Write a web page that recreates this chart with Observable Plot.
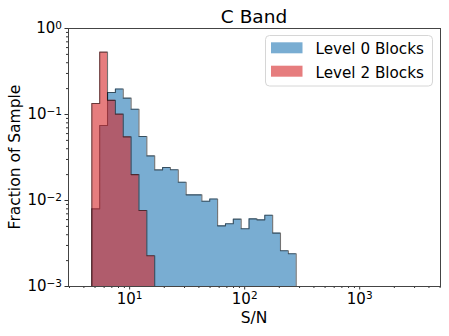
<!DOCTYPE html>
<html><head><meta charset="utf-8">
<script src="https://cdn.jsdelivr.net/npm/d3@7"></script>
<script src="https://cdn.jsdelivr.net/npm/@observablehq/plot@0.6"></script>
<style>body{margin:0;background:#fff} svg{display:block}</style>
</head><body><div id="chart"></div>
<script>
// log-spaced histogram bin edges (S/N)
const binEdges = [4.69, 5.49, 6.42, 7.52, 8.80, 10.30, 12.05, 14.11, 16.51, 19.33, 22.62, 26.48, 30.99,
  36.27, 42.46, 49.69, 58.16, 68.07, 79.66, 93.27, 109.1, 127.8, 149.5, 175.1, 204.8, 239.8, 280.6];
// fraction of sample per bin
const level0 = [0.0080, 0.0745, 0.180, 0.198, 0.155, 0.115, 0.0555, 0.033, 0.0227, 0.0242, 0.0228, 0.0163,
  0.01164, 0.01164, 0.0098, 0.0104, 0.00507, 0.00536, 0.00607, 0.00469, 0.00612, 0.00596, 0.00675,
  0.00418, 0.0026, 0.0024];
const level2 = [0.134, 0.531, 0.146, 0.101, 0.055, 0.0200, 0.00765, 0.00228];
const seriesNames = ["Level 0 Blocks", "Level 2 Blocks"];
const seriesColors = ["#1f77b4", "#d62728"];
const xMajorTicks = [10, 100, 1000];
const xTickLabels = ["10^1", "10^2", "10^3"];
const yMajorTicks = [1e-3, 1e-2, 1e-1, 1];
const yTickLabels = ["10^\u22123", "10^\u22122", "10^\u22121", "10^0"];
const xDomain = [2.94, 5040];
const yDomain = [1e-3, 1];
const yMin = yDomain[0];

const xMinor = [], yMinor = [];
for (const d of [1, 10, 100, 1000]) for (let k = 2; k <= 9; k++) { const v = d * k; if (v > xDomain[0] && v < xDomain[1]) xMinor.push(v); }
for (const d of [1e-3, 1e-2, 1e-1]) for (let k = 2; k <= 9; k++) yMinor.push(d * k);

function areaPts(values) {
  const pts = values.map((v, i) => ({x: binEdges[i], y: v}));
  pts.push({x: binEdges[values.length], y: values[values.length - 1]});
  return pts;
}
function outlinePts(values) {
  const pts = [{x: binEdges[0], y: yMin}];
  values.forEach((v, i) => pts.push({x: binEdges[i], y: v}));
  pts.push({x: binEdges[values.length], y: values[values.length - 1]});
  pts.push({x: binEdges[values.length], y: yMin});
  return pts;
}

const marks = [];
[level0, level2].forEach((vals, s) => {
  marks.push(Plot.areaY(areaPts(vals), {x: "x", y1: () => yMin, y2: "y", curve: "step-after",
    fill: seriesColors[s], fillOpacity: 0.6}));
  marks.push(Plot.line(outlinePts(vals), {x: "x", y: "y", curve: "step-after",
    stroke: "#000", strokeOpacity: 0.55, strokeWidth: 1.1}));
});

const chart = Plot.plot({
  width: 449, height: 336,
  marginLeft: 68, marginRight: 9, marginTop: 28, marginBottom: 50,
  style: {fontFamily: "DejaVu Sans", fontSize: "15px", color: "#000", background: "#fff"},
  x: {type: "log", domain: xDomain},
  y: {type: "log", domain: yDomain},
  marks: [
    ...marks,
    Plot.axisX({ticks: xMinor, tickSize: 2, tickFormat: () => "", label: null, stroke: "#333"}),
    Plot.axisX({ticks: xMajorTicks, tickSize: 3.5, tickPadding: 3, label: null, fontSize: 15,
      tickFormat: (d) => xTickLabels[xMajorTicks.indexOf(d)], stroke: "#333"}),
    Plot.axisY({ticks: yMinor, tickSize: 2, tickFormat: () => "", label: null, stroke: "#333"}),
    Plot.axisY({ticks: yMajorTicks, tickSize: 3.5, tickPadding: 3, label: null, fontSize: 15,
      tickFormat: (d) => yTickLabels[yMajorTicks.indexOf(d)], stroke: "#333"}),
    Plot.frame({stroke: "#444", strokeWidth: 1})
  ]
});
document.getElementById("chart").appendChild(chart);

// superscripts on tick labels
chart.querySelectorAll("text").forEach(t => {
  const m = /^10\^(.+)$/.exec(t.textContent);
  if (m) {
    t.textContent = "10";
    const sp = document.createElementNS("http://www.w3.org/2000/svg", "tspan");
    sp.setAttribute("dy", "-0.45em");
    sp.setAttribute("font-size", "0.7em");
    sp.textContent = m[1];
    t.appendChild(sp);
  }
});

const svg = d3.select(chart);
const font = "DejaVu Sans";
svg.append("text").attr("x", 254).attr("y", 22.7).attr("text-anchor", "middle")
  .attr("font-family", font).attr("font-size", 18.5).attr("fill", "#000").text("C Band");
svg.append("text").attr("x", 254).attr("y", 323.3).attr("text-anchor", "middle")
  .attr("font-family", font).attr("font-size", 15.5).attr("fill", "#000").text("S/N");
svg.append("text").attr("transform", "translate(19.5,157) rotate(-90)").attr("text-anchor", "middle")
  .attr("font-family", font).attr("font-size", 15.5).attr("fill", "#000").text("Fraction of Sample");

const lg = svg.append("g");
lg.append("rect").attr("x", 265.5).attr("y", 35.5).attr("width", 167).attr("height", 50.5)
  .attr("rx", 4).attr("fill", "#fff").attr("fill-opacity", 0.8).attr("stroke", "#d6d6d6");
seriesNames.forEach((name, i) => {
  const y0 = 42.3 + i * 23.4;
  lg.append("rect").attr("x", 271).attr("y", y0).attr("width", 31.5).attr("height", 11)
    .attr("fill", seriesColors[i]).attr("fill-opacity", 0.6);
  lg.append("text").attr("x", 315.5).attr("y", y0 + 12).attr("text-anchor", "start")
    .attr("font-family", font).attr("font-size", 15.2).attr("fill", "#000").text(name);
});
</script></body></html>
